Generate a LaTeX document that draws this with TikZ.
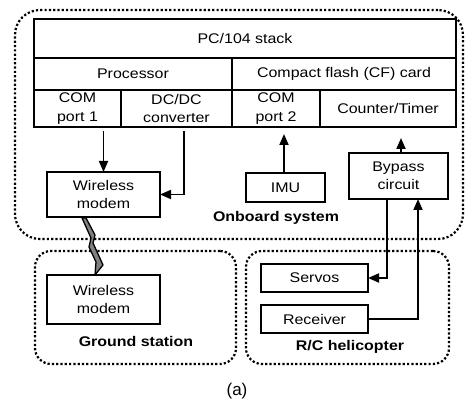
\documentclass[tikz,border=0pt]{standalone}
\usepackage{fontspec}
\newfontfamily\diagfont{Liberation Sans}[FakeStretch=1.14]
\newfontfamily\plainfont{Liberation Sans}
\usepackage{tikz}
\usetikzlibrary{arrows.meta}
\usetikzlibrary{positioning}

\begin{document}
\begin{tikzpicture}[x=1pt, y=-1pt, >={Triangle[length=11pt, width=9pt]}, line width=1.8pt,
	font=\diagfont\fontsize{14}{18.5}\selectfont, align=center,
	cell/.style={rectangle, draw, inner sep=0pt, outer sep=0pt},
	unit/.style={rectangle, draw, inner sep=0pt, outer sep=0pt},
	region/.style={rectangle, draw, line width=2.2pt, dash pattern=on 2.2pt off 2.1pt, inner sep=0pt, outer sep=0pt},
	caption/.style={font=\diagfont\bfseries\fontsize{14}{16}\selectfont},
]
\useasboundingbox (0,0) rectangle (465,403);
% dotted regions
\node [region, rounded corners=25pt, minimum width=448pt, minimum height=229pt] at (239,124.5) (onboard) {};
\node [region, rounded corners=16pt, minimum width=201pt, minimum height=113pt] at (135.5,307.5) (ground) {};
\node [region, rounded corners=16pt, minimum width=203pt, minimum height=113pt] at (347.5,307.5) (heli) {};
% PC/104 stack
\node [cell, minimum width=422pt, minimum height=39pt] at (245,38.5) (stack) {PC/104 stack};
\node [cell, minimum width=198pt, minimum height=32pt] at (133,74) (Proc) {Processor};
\node [cell, minimum width=224pt, minimum height=32pt] at (344,74) (CFcard) {Compact flash (CF) card};
\node [cell, minimum width=87pt, minimum height=37pt] at (77.5,108.5) (COM_1) {COM\\port 1};
\node [cell, minimum width=111pt, minimum height=37pt] at (176.5,108.5) (DCDC) {DC/DC\\converter};
\node [cell, minimum width=88pt, minimum height=37pt] at (276,108.5) (COM_2) {COM\\port 2};
\node [cell, minimum width=136pt, minimum height=37pt] at (388,108.5) (Counter) {Counter/Timer};
% units
\node [unit, minimum width=113pt, minimum height=45pt] at (103.5,194.5) (Modem) {Wireless\\modem};
\node [unit, minimum width=79pt, minimum height=29pt] at (285.5,187.5) (IMU) {IMU};
\node [unit, minimum width=99pt, minimum height=46pt] at (398.5,176) (Bypass) {Bypass\\circuit};
\node [unit, minimum width=113pt, minimum height=49pt] at (103.5,299.5) (GroundModem) {Wireless\\modem};
\node [unit, minimum width=107pt, minimum height=28pt] at (314.5,278) (Servos) {Servos};
\node [unit, minimum width=107pt, minimum height=28pt] at (314.5,319) (Receiver) {Receiver};
% captions
\node [caption] at (276,218) (onboardLabel) {Onboard system};
\node [caption] at (136,341) (groundLabel) {Ground station};
\node [caption] at (350,347) (heliLabel) {R/C helicopter};
\node [font=\plainfont\fontsize{17}{20}\selectfont] at (237,391) (subfig) {(a)};
%
\draw [->, shorten <=4pt] (COM_1.south -| Modem.north) -- (Modem.north);
\draw [->, shorten <=4pt] ([xshift=7.5pt]DCDC.south) |- (Modem.east);
\draw [->, shorten >=7pt] ([xshift=-1.5pt]IMU.north) -- ([xshift=-1.5pt]IMU.north |- COM_2.south);
\draw [->, shorten >=11pt] ([xshift=2.5pt]Bypass.north) -- ([xshift=2.5pt]Bypass.north |- Counter.south);
\draw [->] ([xshift=-11.5pt]Bypass.south) |- (Servos.east);
\draw [->] (Receiver.east) -| ([xshift=19.5pt]Bypass.south);
% radio link
\filldraw [fill=gray, line width=1.3pt, line join=round] (82,218) -- (86,218) -- (95,235) -- (93,243) -- (103,265)
	-- (95,275) -- (96,262) -- (89,247) -- (91,238) -- cycle;
\end{tikzpicture}
\end{document}
